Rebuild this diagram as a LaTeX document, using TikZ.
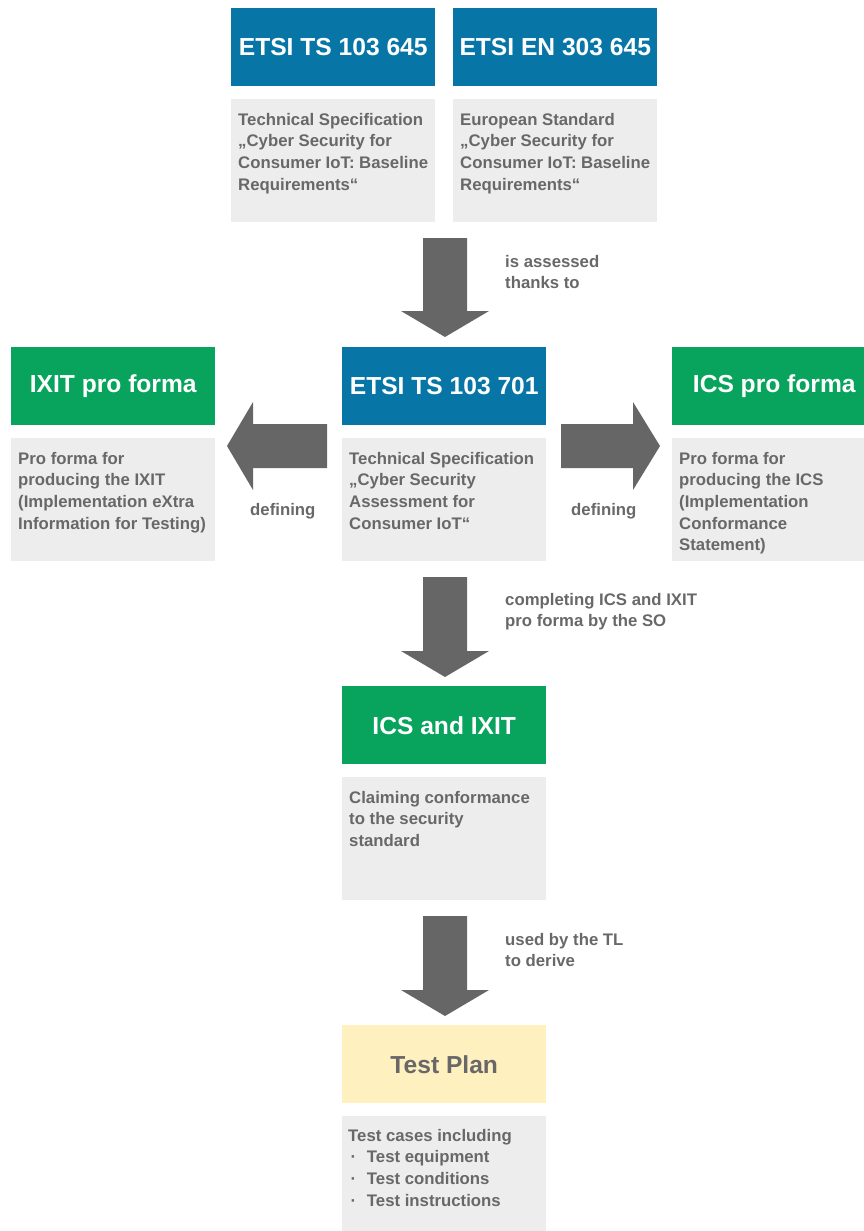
\documentclass[tikz,border=0pt]{standalone}
\usepackage{fontspec}
\setmainfont{Liberation Sans}
\usetikzlibrary{positioning}

\definecolor{etsiblue}{RGB}{7,118,166}
\definecolor{etsigreen}{RGB}{8,164,94}
\definecolor{boxgray}{RGB}{237,237,237}
\definecolor{textgray}{RGB}{104,104,104}
\definecolor{arrowgray}{RGB}{102,102,102}
\definecolor{planyellow}{RGB}{255,240,192}

\newcommand{\bul}{\makebox[16pt][l]{\hspace{2pt}·}}

\begin{document}
\begin{tikzpicture}[x=0.03cm, y=-0.03cm,
    header/.style={anchor=north west, minimum width=6.12cm, minimum height=2.34cm, inner sep=0pt,
        text=white, font=\fontsize{21}{25}\selectfont\bfseries},
    bluehead/.style={header, fill=etsiblue},
    greenhead/.style={header, fill=etsigreen},
    bodybox/.style={anchor=north west, minimum width=6.12cm, minimum height=3.69cm, inner sep=0pt, fill=boxgray},
    bodytext/.style={anchor=north west, inner sep=0pt, align=left, text=textgray,
        font=\fontsize{14.3}{18.4}\selectfont\bfseries},
    blockarrow/.style={fill=arrowgray}]
    \useasboundingbox (0,0) rectangle (863,1231);

    \node[bluehead] (ts645) at (231,8) {ETSI TS 103 645};
    \node[bodybox] (ts645b) at (231,99) {};
    \node[bodytext] (ts645t) at ([shift={(7,14)}]ts645b.north west)
        {Technical Specification\\„Cyber Security for\\Consumer IoT: Baseline\\Requirements“};

    \node[bluehead] (en645) at (453,8) {ETSI EN 303 645};
    \node[bodybox] (en645b) at (453,99) {};
    \node[bodytext] (en645t) at ([shift={(7,14)}]en645b.north west)
        {European Standard\\„Cyber Security for\\Consumer IoT: Baseline\\Requirements“};

    \fill[blockarrow, shift={(445,238)}] (-22,0) -- (22,0) -- (22,73) -- (44,73) -- (0,99) -- (-44,73) -- (-22,73) -- cycle;
    \node[bodytext] (assessed) at (505,255) {is assessed\\thanks to};

    \node[greenhead] (ixit) at (11,347) {IXIT pro forma};
    \node[bodybox] (ixitb) at (11,438) {};
    \node[bodytext] (ixitt) at ([shift={(7,14)}]ixitb.north west)
        {Pro forma for\\producing the IXIT\\(Implementation eXtra\\Information for Testing)};

    \node[bluehead] (ts701) at (342,347) {ETSI TS 103 701};
    \node[bodybox] (ts701b) at (342,438) {};
    \node[bodytext] (ts701t) at ([shift={(7,14)}]ts701b.north west)
        {Technical Specification\\„Cyber Security\\Assessment for\\Consumer IoT“};

    \node[greenhead] (ics) at (672,347) {ICS pro forma};
    \node[bodybox] (icsb) at (672,438) {};
    \node[bodytext] (icst) at ([shift={(7,14)}]icsb.north west)
        {Pro forma for\\producing the ICS\\(Implementation\\Conformance\\Statement)};

    \fill[blockarrow, shift={(327,446)}] (0,-22) -- (0,22) -- (-74,22) -- (-74,44) -- (-100,0) -- (-74,-44) -- (-74,-22) -- cycle;
    \node[bodytext, anchor=base west] (defleft) at (250,515) {defining};
    \fill[blockarrow, shift={(561,446)}] (0,-22) -- (72,-22) -- (72,-44) -- (99,0) -- (72,44) -- (72,22) -- (0,22) -- cycle;
    \node[bodytext, anchor=base west] (defright) at (571,515) {defining};

    \fill[blockarrow, shift={(445,577)}] (-22,0) -- (22,0) -- (22,74) -- (44,74) -- (0,100) -- (-44,74) -- (-22,74) -- cycle;
    \node[bodytext] (completing) at (505,593) {completing ICS and IXIT\\pro forma by the SO};

    \node[greenhead] (icsixit) at (342,686) {ICS and IXIT};
    \node[bodybox] (icsixitb) at (342,777) {};
    \node[bodytext] (icsixitt) at ([shift={(7,14)}]icsixitb.north west)
        {Claiming conformance\\to the security\\standard};

    \fill[blockarrow, shift={(445,916)}] (-22,0) -- (22,0) -- (22,74) -- (44,74) -- (0,100) -- (-44,74) -- (-22,74) -- cycle;
    \node[bodytext] (usedby) at (505,933) {used by the TL\\to derive};

    \node[header, fill=planyellow, text=textgray] (plan) at (342,1025) {Test Plan};
    \node[bodybox] (planb) at (342,1116) {};
    \node[bodytext] (plant) at ([shift={(6,13)}]planb.north west)
        {Test cases including\\\bul Test equipment\\\bul Test conditions\\\bul Test instructions};
\end{tikzpicture}
\end{document}
